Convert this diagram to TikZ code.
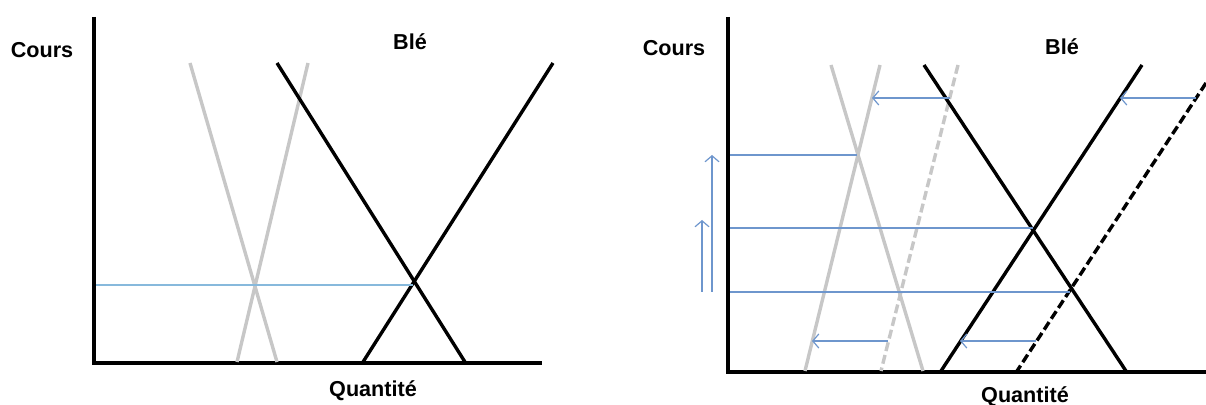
\documentclass[tikz,border=0pt]{standalone}
\usepackage{fontspec}
\setmainfont{Liberation Sans}
\usepackage{tikz}
\usetikzlibrary{arrows.meta}
\definecolor{skyline}{RGB}{135,185,220}
\definecolor{steelline}{RGB}{110,150,205}

\begin{document}
\begin{tikzpicture}[
    x=0.5pt, y=-0.5pt,
    axis/.style={draw=black, line width=2pt},
    curve/.style={draw=black, line width=1.7pt},
    oldcurve/.style={draw=black!22, line width=1.7pt},
    shifted/.style={dash pattern=on 4.5pt off 2pt},
    level/.style={draw=steelline, line width=0.6pt},
    move/.style={level, -{Straight Barb[length=3pt, width=7pt]}},
    label/.style={font=\fontsize{10.8}{12}\selectfont\bfseries, inner sep=0pt}
]
\useasboundingbox (0,0) rectangle (1206,405);

% Left panel: axes
\coordinate (yL) at (94,17);
\coordinate (oL) at (94,363);
\coordinate (xL) at (542,363);
\draw[axis] (yL) -- (oL) -- (xL);

\node[label] (coursL) at (42,50) {Cours};
\node[label] (bleL) at (410,42) {Blé};
\node[label] (qteL) at (373,391) {Quantité};

% Left panel: curves
\coordinate (gdL1) at (190,63);  \coordinate (gdL2) at (277,362);
\coordinate (gsL1) at (308,63);  \coordinate (gsL2) at (237,362);
\coordinate (bdL1) at (277,63);  \coordinate (bdL2) at (465,362);
\coordinate (bsL1) at (553,63);  \coordinate (bsL2) at (363,362);
\draw[oldcurve] (gdL1) -- (gdL2);
\draw[oldcurve] (gsL1) -- (gsL2);
\draw[curve] (bdL1) -- (bdL2);
\draw[curve] (bsL1) -- (bsL2);

% Left panel: price level
\coordinate (pL) at (96,285);
\coordinate (eqL) at (413,285);
\draw[level, draw=skyline] (pL) -- (eqL);

% Right panel: axes
\coordinate (yR) at (728,17);
\coordinate (oR) at (728,372);
\coordinate (xR) at (1206,372);
\draw[axis] (yR) -- (oR) -- (xR);

\node[label] (coursR) at (674,48) {Cours};
\node[label] (bleR) at (1062,47) {Blé};
\node[label] (qteR) at (1025,397) {Quantité};

% Right panel: curves
\coordinate (gdR1) at (831,65);  \coordinate (gdR2) at (923,371);
\coordinate (gsR1) at (880,65);  \coordinate (gsR2) at (805,371);
\coordinate (gxR1) at (958,65);  \coordinate (gxR2) at (881,371);
\coordinate (bdR1) at (924,65);  \coordinate (bdR2) at (1126,371);
\coordinate (bsR1) at (1142,65); \coordinate (bsR2) at (941,371);
\coordinate (bxR1) at (1206,83); \coordinate (bxR2) at (1017,371);
\draw[oldcurve] (gdR1) -- (gdR2);
\draw[oldcurve] (gsR1) -- (gsR2);
\draw[oldcurve, shifted] (gxR1) -- (gxR2);
\draw[curve] (bdR1) -- (bdR2);
\draw[curve] (bsR1) -- (bsR2);
\draw[curve, shifted] (bxR1) -- (bxR2);

% Right panel: price levels
\coordinate (p1R) at (730,155); \coordinate (e1R) at (857,155);
\coordinate (p2R) at (730,228); \coordinate (e2R) at (1033,228);
\coordinate (p3R) at (730,292); \coordinate (e3R) at (1070,292);
\draw[level] (p1R) -- (e1R);
\draw[level] (p2R) -- (e2R);
\draw[level] (p3R) -- (e3R);

% Right panel: shifts of supply
\coordinate (a1) at (950,98);  \coordinate (b1) at (872,98);
\coordinate (a2) at (1196,98); \coordinate (b2) at (1120,98);
\coordinate (a3) at (888,341); \coordinate (b3) at (812,341);
\coordinate (a4) at (1036,341); \coordinate (b4) at (960,341);
\draw[move] (a1) -- (b1);
\draw[move] (a2) -- (b2);
\draw[move] (a3) -- (b3);
\draw[move] (a4) -- (b4);

% Right panel: rise of price
\coordinate (u1) at (712,292); \coordinate (v1) at (712,155);
\coordinate (u2) at (702,292); \coordinate (v2) at (702,220);
\draw[move] (u1) -- (v1);
\draw[move] (u2) -- (v2);

\end{tikzpicture}
\end{document}
